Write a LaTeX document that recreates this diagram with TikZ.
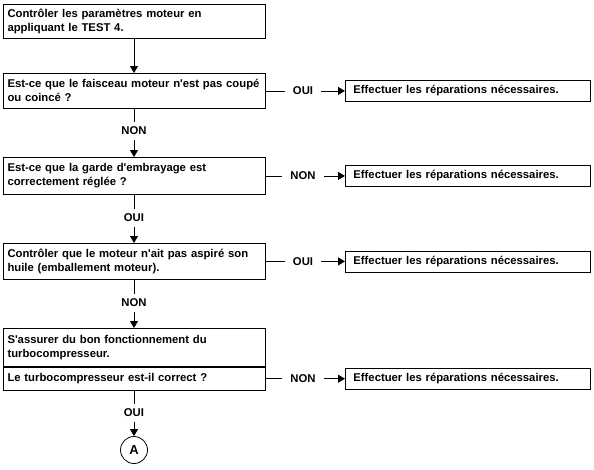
\documentclass[tikz,border=0pt]{standalone}
\usepackage{fontspec}
\setmainfont{Liberation Sans}
\usetikzlibrary{arrows.meta}
\begin{document}
\begin{tikzpicture}[x=1pt,y=-1pt,line width=0.8pt,
	font=\fontsize{11.3}{14}\selectfont\bfseries,
	box/.style={draw,rectangle,anchor=north,minimum width=262pt,text width=253pt,inner xsep=4.5pt,inner ysep=0pt,align=left},
	res/.style={draw,rectangle,anchor=west,minimum width=245pt,minimum height=21pt,text width=229pt,inner xsep=8pt,inner ysep=0pt,align=left},
	lbl/.style={inner xsep=8pt,inner ysep=5pt},
	pfeil/.style={-{Triangle[length=7pt,width=8pt]}}]
	\useasboundingbox (0,0) rectangle (594,469);
	%Hauptkaesten
	\node [box,minimum height=34pt] (b1) at (134,4) {Contrôler les paramètres moteur en\\appliquant le TEST 4.};
	\node [box,minimum height=35pt] (b2) at (134,73) {Est-ce que le faisceau moteur n\textquotesingle est pas coupé\\ou coincé ?};
	\node [box,minimum height=37pt] (b3) at (134,157) {Est-ce que la garde d\textquotesingle embrayage est\\correctement réglée ?};
	\node [box,minimum height=36pt] (b4) at (134,243) {Contrôler que le moteur n\textquotesingle ait pas aspiré son\\huile (emballement moteur).};
	\node [box,minimum height=38pt] (b5) at (134,328) {S\textquotesingle assurer du bon fonctionnement du\\turbocompresseur.};
	\node [box,minimum height=23pt] (b6) at (b5.south) {Le turbocompresseur est-il correct ?};
	\node [draw,circle,minimum size=27pt,inner sep=0pt,font=\fontsize{13}{13}\selectfont\bfseries] (a) at (134,450) {A};
	%Reparaturkaesten
	\node [res] (r2) at (b2.east -| 345,0) {Effectuer les réparations nécessaires.};
	\node [res] (r3) at (b3.east -| 345,0) {Effectuer les réparations nécessaires.};
	\node [res] (r4) at (b4.east -| 345,0) {Effectuer les réparations nécessaires.};
	\node [res] (r6) at (b6.east -| 345,0) {Effectuer les réparations nécessaires.};
	%Beschriftungen
	\node [lbl] (n2) at (134,131) {NON};
	\node [lbl] (n3) at (134,218) {OUI};
	\node [lbl] (n4) at (134,303) {NON};
	\node [lbl] (n6) at (134,413) {OUI};
	\node [lbl] (s2) at (b2.east -| 303,0) {OUI};
	\node [lbl] (s3) at (b3.east -| 303,0) {NON};
	\node [lbl] (s4) at (b4.east -| 303,0) {OUI};
	\node [lbl] (s6) at (b6.east -| 303,0) {NON};
	%Pfeile nach unten
	\draw [pfeil] (b1) -- (b2);
	\draw (b2) -- (n2);
	\draw [pfeil] (n2) -- (b3);
	\draw (b3) -- (n3);
	\draw [pfeil] (n3) -- (b4);
	\draw (b4) -- (n4);
	\draw [pfeil] (n4) -- (b5);
	\draw (b6) -- (n6);
	\draw [pfeil] (n6) -- (a);
	%Pfeile nach rechts
	\draw (b2) -- (s2);
	\draw [pfeil] (s2) -- (r2);
	\draw (b3) -- (s3);
	\draw [pfeil] (s3) -- (r3);
	\draw (b4) -- (s4);
	\draw [pfeil] (s4) -- (r4);
	\draw (b6) -- (s6);
	\draw [pfeil] (s6) -- (r6);
\end{tikzpicture}
\end{document}
